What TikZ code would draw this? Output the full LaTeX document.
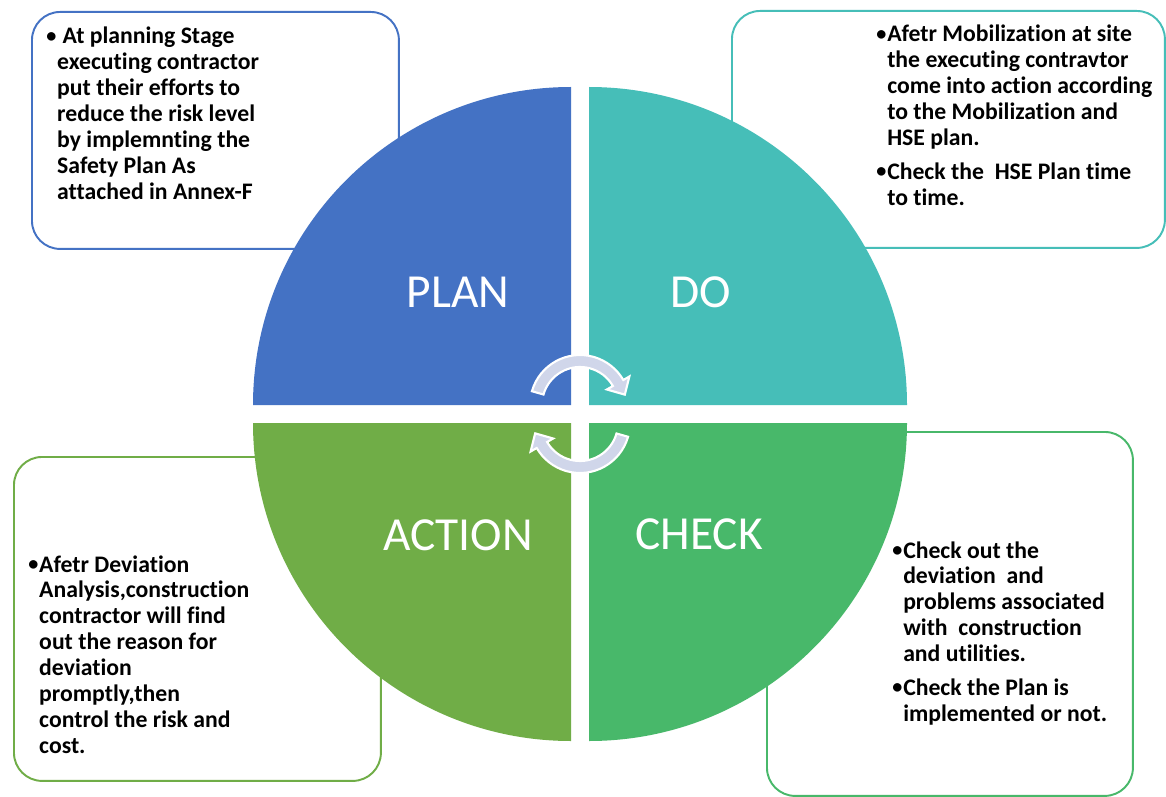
\documentclass[tikz,border=0pt]{standalone}
\usepackage{fontspec}
\setmainfont{Carlito}[Ligatures=NoCommon]

\definecolor{planblue}{HTML}{4472C4}
\definecolor{doteal}{HTML}{46BEB8}
\definecolor{checkgreen}{HTML}{48B86A}
\definecolor{actgreen}{HTML}{70AD47}
\definecolor{turnlav}{HTML}{D0D6EA}

\newcommand{\notebullet}{\raisebox{0.8pt}{\scalebox{0.85}{\textbullet}}}

\begin{document}
\begin{tikzpicture}[
        x=0.02cm,
        y=-0.02cm,
        every node/.style={inner sep=0pt},
        note/.style={
            rectangle,
            rounded corners=16pt,
            draw=#1,
            line width=1.1pt,
            fill=white,
            anchor=north west
        },
        notetext/.style={
            anchor=base west,
            align=left,
            font=\bfseries\fontsize{13.5}{14.74}\selectfont
        },
        stage/.style={
            text=white,
            font=\fontsize{27}{32}\selectfont
        },
        turn/.style={
            fill=turnlav,
            draw=white,
            line width=1.2pt
        }
    ]

    % page
    \path[fill=white, use as bounding box] (0,0) rectangle (1166,797);

    % note boxes
    \node[note=planblue, minimum width=7.34cm, minimum height=4.74cm] (planbox) at (31,11) {};
    \node[note=doteal, minimum width=8.66cm, minimum height=4.74cm] (dobox) at (731,10) {};
    \node[note=actgreen, minimum width=7.34cm, minimum height=6.48cm] (actbox) at (13,456) {};
    \node[note=checkgreen, minimum width=7.32cm, minimum height=7.28cm] (checkbox) at (766,431) {};

    % quarters
    \fill[planblue] (571,405) -- (253,405) arc[start angle=180, end angle=270, radius=318] -- cycle;
    \fill[doteal] (589,405) -- (589,87) arc[start angle=270, end angle=360, radius=318] -- cycle;
    \fill[checkgreen] (589,423) -- (907,423) arc[start angle=0, end angle=90, radius=318] -- cycle;
    \fill[actgreen] (571,423) -- (571,741) arc[start angle=90, end angle=180, radius=318] -- cycle;

    % stage names
    \node[stage] (plan) at (458,292) {PLAN};
    \node[stage] (do) at (701,292) {DO};
    \node[stage] (action) at (458,535) {ACTION};
    \node[stage] (check) at (699,534) {CHECK};

    % turning arrows
    \begin{scope}[shift={(580,405)}]
        \draw[turn] (196:50) arc[start angle=196, end angle=330, radius=50]
            -- (330:57) -- (347:46) -- (330:31) -- (330:38)
            arc[start angle=330, end angle=196, radius=38] -- cycle;
    \end{scope}
    \begin{scope}[shift={(580,423)}]
        \draw[turn] (16:50) arc[start angle=16, end angle=150, radius=50]
            -- (150:57) -- (167:46) -- (150:31) -- (150:38)
            arc[start angle=150, end angle=16, radius=38] -- cycle;
    \end{scope}

    % note texts
    \node[notetext] (plantext) at (46,44) {%
        \begin{tabular}[t]{@{}p{6.2pt}@{}l@{}}
        \notebullet & \ At planning Stage\\
        & executing contractor\\
        & put their efforts to\\
        & reduce the risk level\\
        & by implemnting the\\
        & Safety Plan As\\
        & attached in Annex-F
        \end{tabular}};

    \node[notetext] (dotext) at (876,42) {%
        \begin{tabular}[t]{@{}p{6.2pt}@{}l@{}}
        \notebullet & Afetr Mobilization at site\\
        & the executing contravtor\\
        & come into action according\\
        & to the Mobilization and\\
        & HSE plan.\\[4.5pt]
        \notebullet & Check the \ HSE Plan time\\
        & to time.
        \end{tabular}};

    \node[notetext] (acttext) at (28,572) {%
        \begin{tabular}[t]{@{}p{6.2pt}@{}l@{}}
        \notebullet & Afetr Deviation\\
        & Analysis,construction\\
        & contractor will find\\
        & out the reason for\\
        & deviation\\
        & promptly,then\\
        & control the risk and\\
        & cost.
        \end{tabular}};

    \node[notetext] (checktext) at (892,558) {%
        \begin{tabular}[t]{@{}p{6.2pt}@{}l@{}}
        \notebullet & Check out the\\
        & deviation \ and\\
        & problems associated\\
        & with \ construction\\
        & and utilities.\\[4.5pt]
        \notebullet & Check the Plan is\\
        & implemented or not.
        \end{tabular}};

\end{tikzpicture}
\end{document}
